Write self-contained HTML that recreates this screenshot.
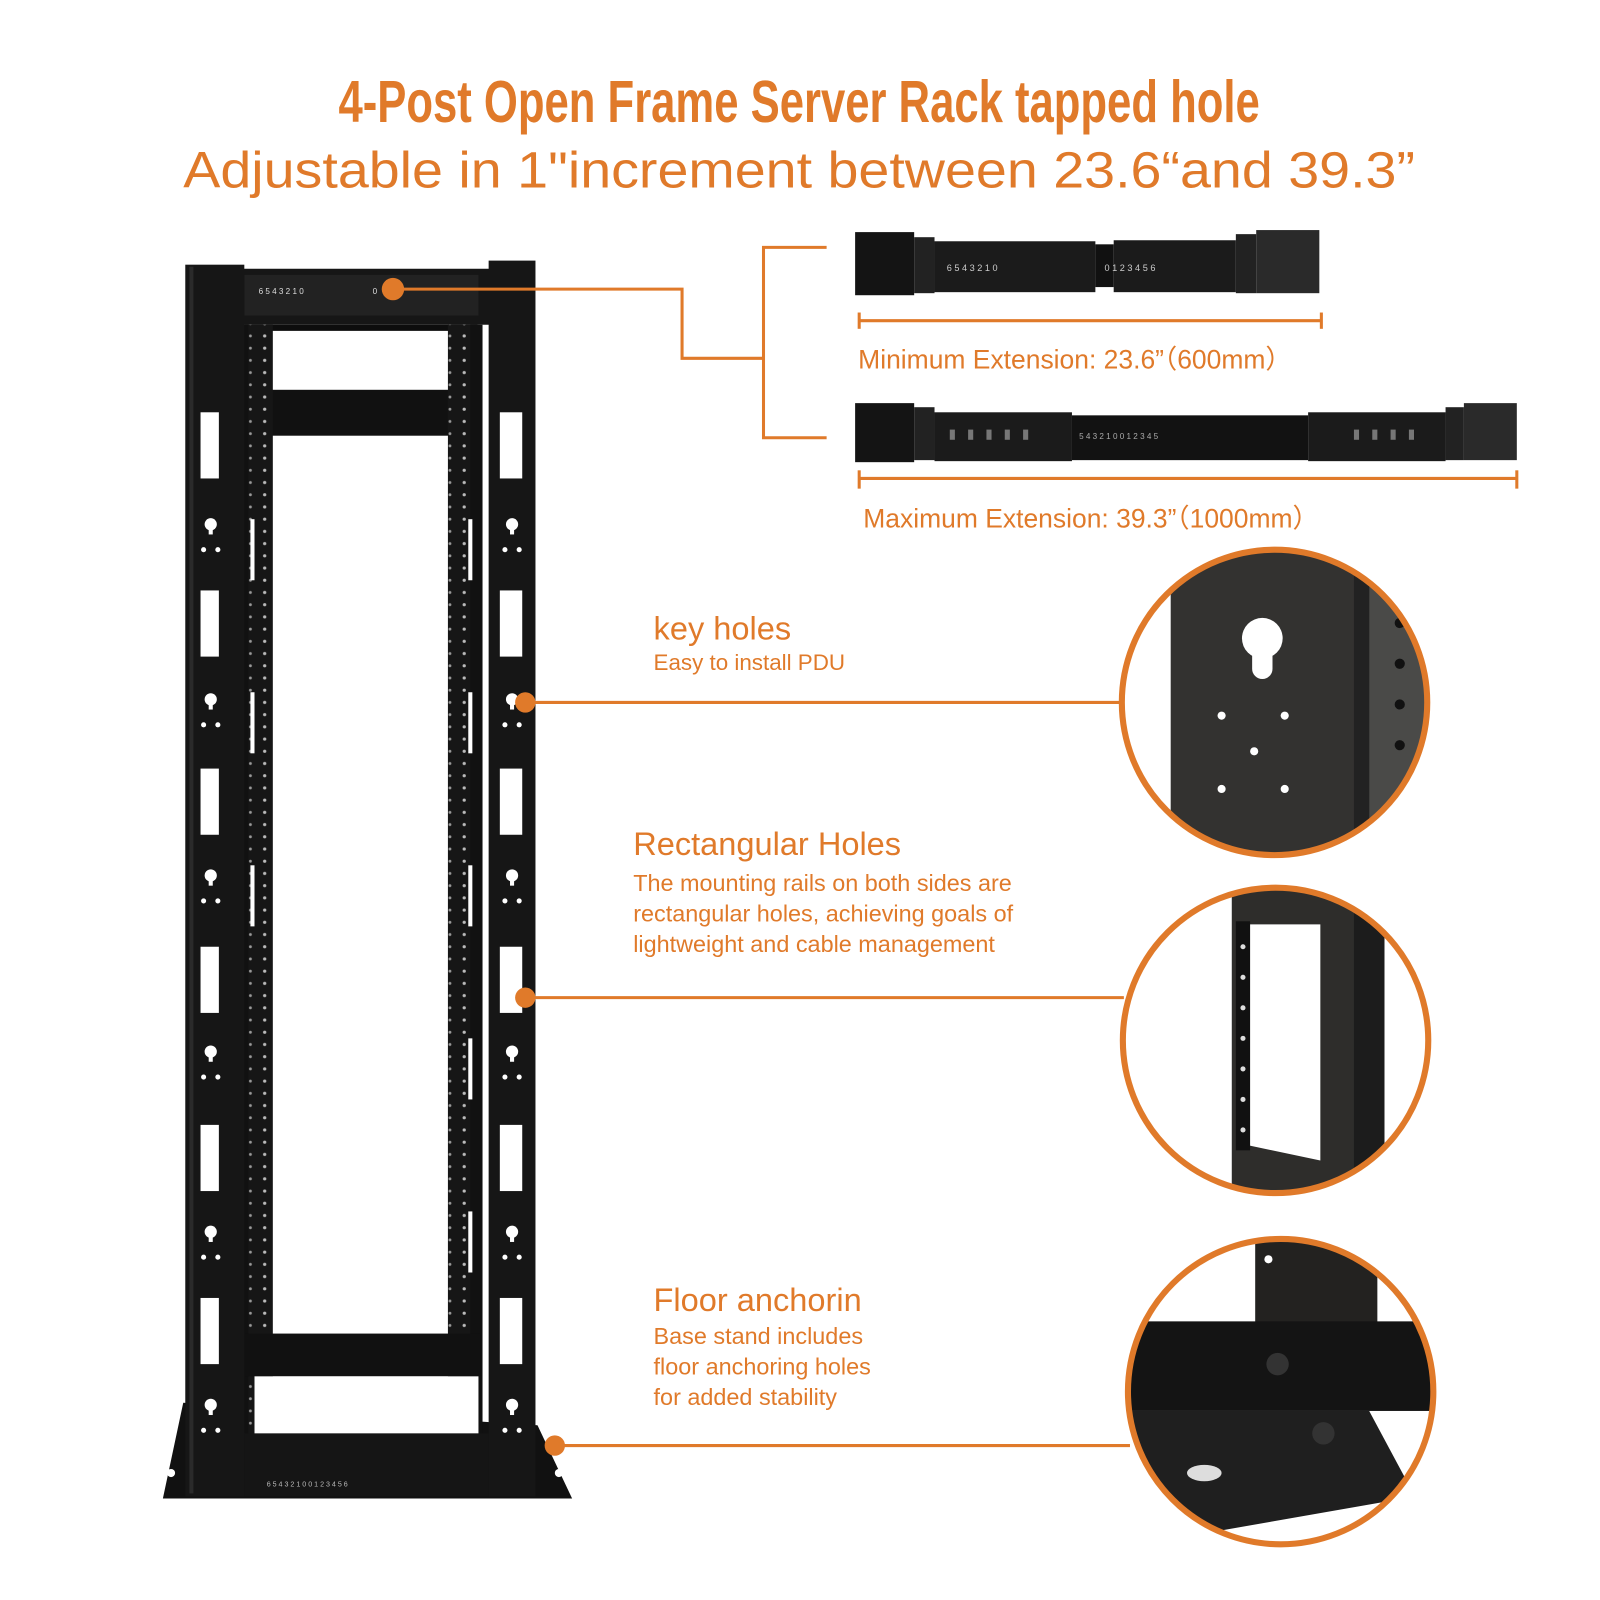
<!DOCTYPE html>
<html><head><meta charset="utf-8"><style>
html,body{margin:0;padding:0;background:#fff}
svg{display:block}
text{font-family:"Liberation Sans",sans-serif;fill:#e07a2a}
</style></head><body>
<svg width="1600" height="1600" viewBox="0 0 1600 1600" xmlns="http://www.w3.org/2000/svg">
<defs>
<pattern id="dots" width="28" height="12" patternUnits="userSpaceOnUse"><rect width="28" height="12" fill="#161616"/><circle cx="8" cy="6" r="1.6" fill="#bbb"/><circle cx="22" cy="6" r="1.4" fill="#999"/></pattern>
<clipPath id="c1"><circle cx="1252" cy="690" r="150"/></clipPath>
<clipPath id="c2"><circle cx="1253" cy="1022" r="150"/></clipPath>
<clipPath id="c3"><circle cx="1258" cy="1367" r="150"/></clipPath>
</defs>
<g transform="scale(1.018)">
<text x="785" y="120" text-anchor="middle" font-weight="bold" font-size="58" textLength="905" lengthAdjust="spacingAndGlyphs">4-Post Open Frame Server Rack tapped hole</text>
<text x="785" y="184" text-anchor="middle" font-size="50" textLength="1210" lengthAdjust="spacingAndGlyphs">Adjustable in 1"increment between 23.6“and 39.3”</text>

<g>
<polygon points="160,1472 180,1378 528,1400 562,1472" fill="#111"/>
<rect x="235" y="264" width="250" height="55" fill="#161616"/>
<rect x="240" y="270" width="230" height="40" fill="#222"/>
<polygon points="240,319 470,319 460,385 250,385" fill="#0d0d0d"/>
<polygon points="248,325 462,325 452,383 262,383" fill="#fff"/>
<rect x="240" y="383" width="230" height="45" fill="#111"/>
<rect x="240" y="319" width="28" height="1110" fill="url(#dots)"/>
<rect x="440" y="319" width="30" height="1110" fill="url(#dots)"/>
<rect x="238" y="319" width="6" height="1110" fill="#111"/>
<rect x="462" y="319" width="12" height="1110" fill="#111"/>
<rect x="240" y="1310" width="232" height="42" fill="#111"/>
<rect x="240" y="1408" width="240" height="62" fill="#151515"/>
<rect x="250" y="1352" width="220" height="56" fill="#fff"/>
<rect x="182" y="260" width="58" height="1210" fill="#161616"/>
<rect x="480" y="256" width="46" height="1214" fill="#161616"/>
<rect x="186" y="262" width="4" height="1205" fill="#2a2a2a"/>
<g fill="#fff">
<rect x="197" y="405" width="18" height="65"/><rect x="197" y="580" width="18" height="65"/><rect x="197" y="755" width="18" height="65"/><rect x="197" y="930" width="18" height="65"/><rect x="197" y="1105" width="18" height="65"/><rect x="197" y="1275" width="18" height="65"/>
<rect x="491" y="405" width="22" height="65"/><rect x="491" y="580" width="22" height="65"/><rect x="491" y="755" width="22" height="65"/><rect x="491" y="930" width="22" height="65"/><rect x="491" y="1105" width="22" height="65"/><rect x="491" y="1275" width="22" height="65"/>
<rect x="246" y="510" width="4" height="60"/><rect x="246" y="680" width="4" height="60"/><rect x="246" y="850" width="4" height="60"/><rect x="460" y="510" width="4" height="60"/><rect x="460" y="680" width="4" height="60"/><rect x="460" y="850" width="4" height="60"/><rect x="460" y="1020" width="4" height="60"/><rect x="460" y="1190" width="4" height="60"/>
<g id="kh"><circle cx="207" cy="515" r="6"/><rect x="205" y="515" width="4" height="10"/><circle cx="200" cy="540" r="2.5"/><circle cx="214" cy="540" r="2.5"/></g>
<use href="#kh" y="172"/><use href="#kh" y="345"/><use href="#kh" y="518"/><use href="#kh" y="695"/><use href="#kh" y="865"/>
<use href="#kh" x="296"/><use href="#kh" x="296" y="172"/><use href="#kh" x="296" y="345"/><use href="#kh" x="296" y="518"/><use href="#kh" x="296" y="695"/><use href="#kh" x="296" y="865"/>
<circle cx="168" cy="1447" r="4"/><circle cx="549" cy="1447" r="4"/>
</g>
<text x="254" y="289" style="fill:#ddd" font-size="8">6  5  4  3  2  1  0</text>
<text x="366" y="289" style="fill:#ddd" font-size="8">0</text>
<text x="262" y="1460" style="fill:#bbb" font-size="7">6 5 4 3 2 1 0    0 1 2 3 4 5 6</text>
</g>

<g stroke="#e07a2a" stroke-width="3" fill="none">
<polyline points="386,284 670,284 670,352 750,352"/>
<polyline points="812,243 750,243 750,430 812,430"/>
<line x1="516" y1="690" x2="1102" y2="690"/>
<line x1="516" y1="980" x2="1104" y2="980"/>
<line x1="545" y1="1420" x2="1110" y2="1420"/>
<line x1="844" y1="315" x2="1298" y2="315"/>
<line x1="844" y1="307" x2="844" y2="323"/><line x1="1298" y1="307" x2="1298" y2="323"/>
<line x1="844" y1="470" x2="1490" y2="470"/>
<line x1="844" y1="462" x2="844" y2="480"/><line x1="1490" y1="462" x2="1490" y2="480"/>
</g>
<g fill="#e07a2a">
<circle cx="386" cy="284" r="11"/><circle cx="516" cy="690" r="10"/><circle cx="516" cy="980" r="10"/><circle cx="545" cy="1420" r="10"/>
</g>

<g>
<rect x="840" y="228" width="58" height="62" fill="#141414"/>
<rect x="898" y="233" width="20" height="55" fill="#222"/>
<rect x="918" y="237" width="158" height="50" fill="#1b1b1b"/>
<rect x="1076" y="240" width="18" height="42" fill="#111"/>
<rect x="1094" y="236" width="120" height="51" fill="#1b1b1b"/>
<rect x="1214" y="230" width="20" height="58" fill="#222"/>
<rect x="1234" y="226" width="62" height="62" fill="#2a2a2a"/>
<text x="930" y="266" style="fill:#ccc" font-size="9">6   5   4   3   2   1   0</text>
<text x="1085" y="266" style="fill:#ccc" font-size="9">  0   1   2   3   4   5   6</text>
<rect x="840" y="396" width="58" height="58" fill="#141414"/>
<rect x="898" y="400" width="20" height="52" fill="#222"/>
<rect x="918" y="405" width="135" height="48" fill="#1b1b1b"/>
<rect x="1053" y="408" width="232" height="44" fill="#121212"/>
<rect x="1285" y="405" width="135" height="48" fill="#1b1b1b"/>
<rect x="1420" y="400" width="18" height="52" fill="#222"/>
<rect x="1438" y="396" width="52" height="56" fill="#2a2a2a"/>
<g fill="#777">
<rect x="933" y="422" width="5" height="10"/><rect x="951" y="422" width="5" height="10"/><rect x="969" y="422" width="5" height="10"/><rect x="987" y="422" width="5" height="10"/><rect x="1005" y="422" width="5" height="10"/>
<rect x="1330" y="422" width="5" height="10"/><rect x="1348" y="422" width="5" height="10"/><rect x="1366" y="422" width="5" height="10"/><rect x="1384" y="422" width="5" height="10"/>
</g>
<text x="1060" y="431" style="fill:#aaa" font-size="8">5    4    3    2    1    0        0    1    2    3    4    5</text>
</g>

<text x="843" y="362" font-size="26">Minimum Extension: 23.6”（600mm）</text>
<text x="848" y="518" font-size="26">Maximum Extension: 39.3”（1000mm）</text>

<text x="642" y="628" font-size="32">key holes</text>
<text x="642" y="658" font-size="22">Easy to install PDU</text>
<text x="622" y="840" font-size="32">Rectangular Holes</text>
<text x="622" y="875" font-size="23">The mounting rails on both sides are</text>
<text x="622" y="905" font-size="23">rectangular holes, achieving goals of</text>
<text x="622" y="935" font-size="23">lightweight and cable management</text>
<text x="642" y="1288" font-size="32">Floor anchorin</text>
<text x="642" y="1320" font-size="23">Base stand includes</text>
<text x="642" y="1350" font-size="23">floor anchoring holes</text>
<text x="642" y="1380" font-size="23">for added stability</text>

<g clip-path="url(#c1)">
<rect x="1100" y="538" width="310" height="310" fill="#fff"/>
<rect x="1150" y="538" width="260" height="310" fill="#333230"/>
<rect x="1345" y="538" width="65" height="310" fill="#4a4a48"/>
<rect x="1330" y="538" width="15" height="310" fill="#222"/>
<circle cx="1240" cy="627" r="20" fill="#fff"/>
<rect x="1230" y="627" width="20" height="40" rx="10" fill="#fff"/>
<g fill="#fff"><circle cx="1200" cy="703" r="4"/><circle cx="1262" cy="703" r="4"/><circle cx="1232" cy="738" r="4"/><circle cx="1200" cy="775" r="4"/><circle cx="1262" cy="775" r="4"/></g>
<g fill="#111"><circle cx="1375" cy="612" r="5"/><circle cx="1375" cy="652" r="5"/><circle cx="1375" cy="692" r="5"/><circle cx="1375" cy="732" r="5"/></g>
</g>
<circle cx="1252" cy="690" r="150" fill="none" stroke="#e07a2a" stroke-width="6"/>

<g clip-path="url(#c2)">
<rect x="1100" y="870" width="310" height="310" fill="#fff"/>
<rect x="1210" y="870" width="150" height="310" fill="#2e2d2b"/>
<rect x="1330" y="870" width="30" height="310" fill="#1c1c1c"/>
<polygon points="1226,908 1297,908 1297,1140 1226,1125" fill="#fff"/>
<rect x="1214" y="905" width="14" height="225" fill="#111"/>
<g fill="#ddd"><circle cx="1221" cy="930" r="2.5"/><circle cx="1221" cy="960" r="2.5"/><circle cx="1221" cy="990" r="2.5"/><circle cx="1221" cy="1020" r="2.5"/><circle cx="1221" cy="1050" r="2.5"/><circle cx="1221" cy="1080" r="2.5"/><circle cx="1221" cy="1110" r="2.5"/></g>
</g>
<circle cx="1253" cy="1022" r="150" fill="none" stroke="#e07a2a" stroke-width="6"/>

<g clip-path="url(#c3)">
<rect x="1100" y="1215" width="320" height="310" fill="#fff"/>
<rect x="1233" y="1215" width="120" height="85" fill="#232220"/>
<rect x="1105" y="1298" width="310" height="88" fill="#141414"/>
<polygon points="1105,1386 1345,1386 1390,1470 1105,1520" fill="#1f1f1f"/>
<ellipse cx="1183" cy="1447" rx="17" ry="8" fill="#ddd"/>
<circle cx="1246" cy="1237" r="4" fill="#fff"/>
<circle cx="1255" cy="1340" r="11" fill="#333"/>
<circle cx="1300" cy="1408" r="11" fill="#333"/>
</g>
<circle cx="1258" cy="1367" r="150" fill="none" stroke="#e07a2a" stroke-width="6"/>
</g>
</svg>
</body></html>
